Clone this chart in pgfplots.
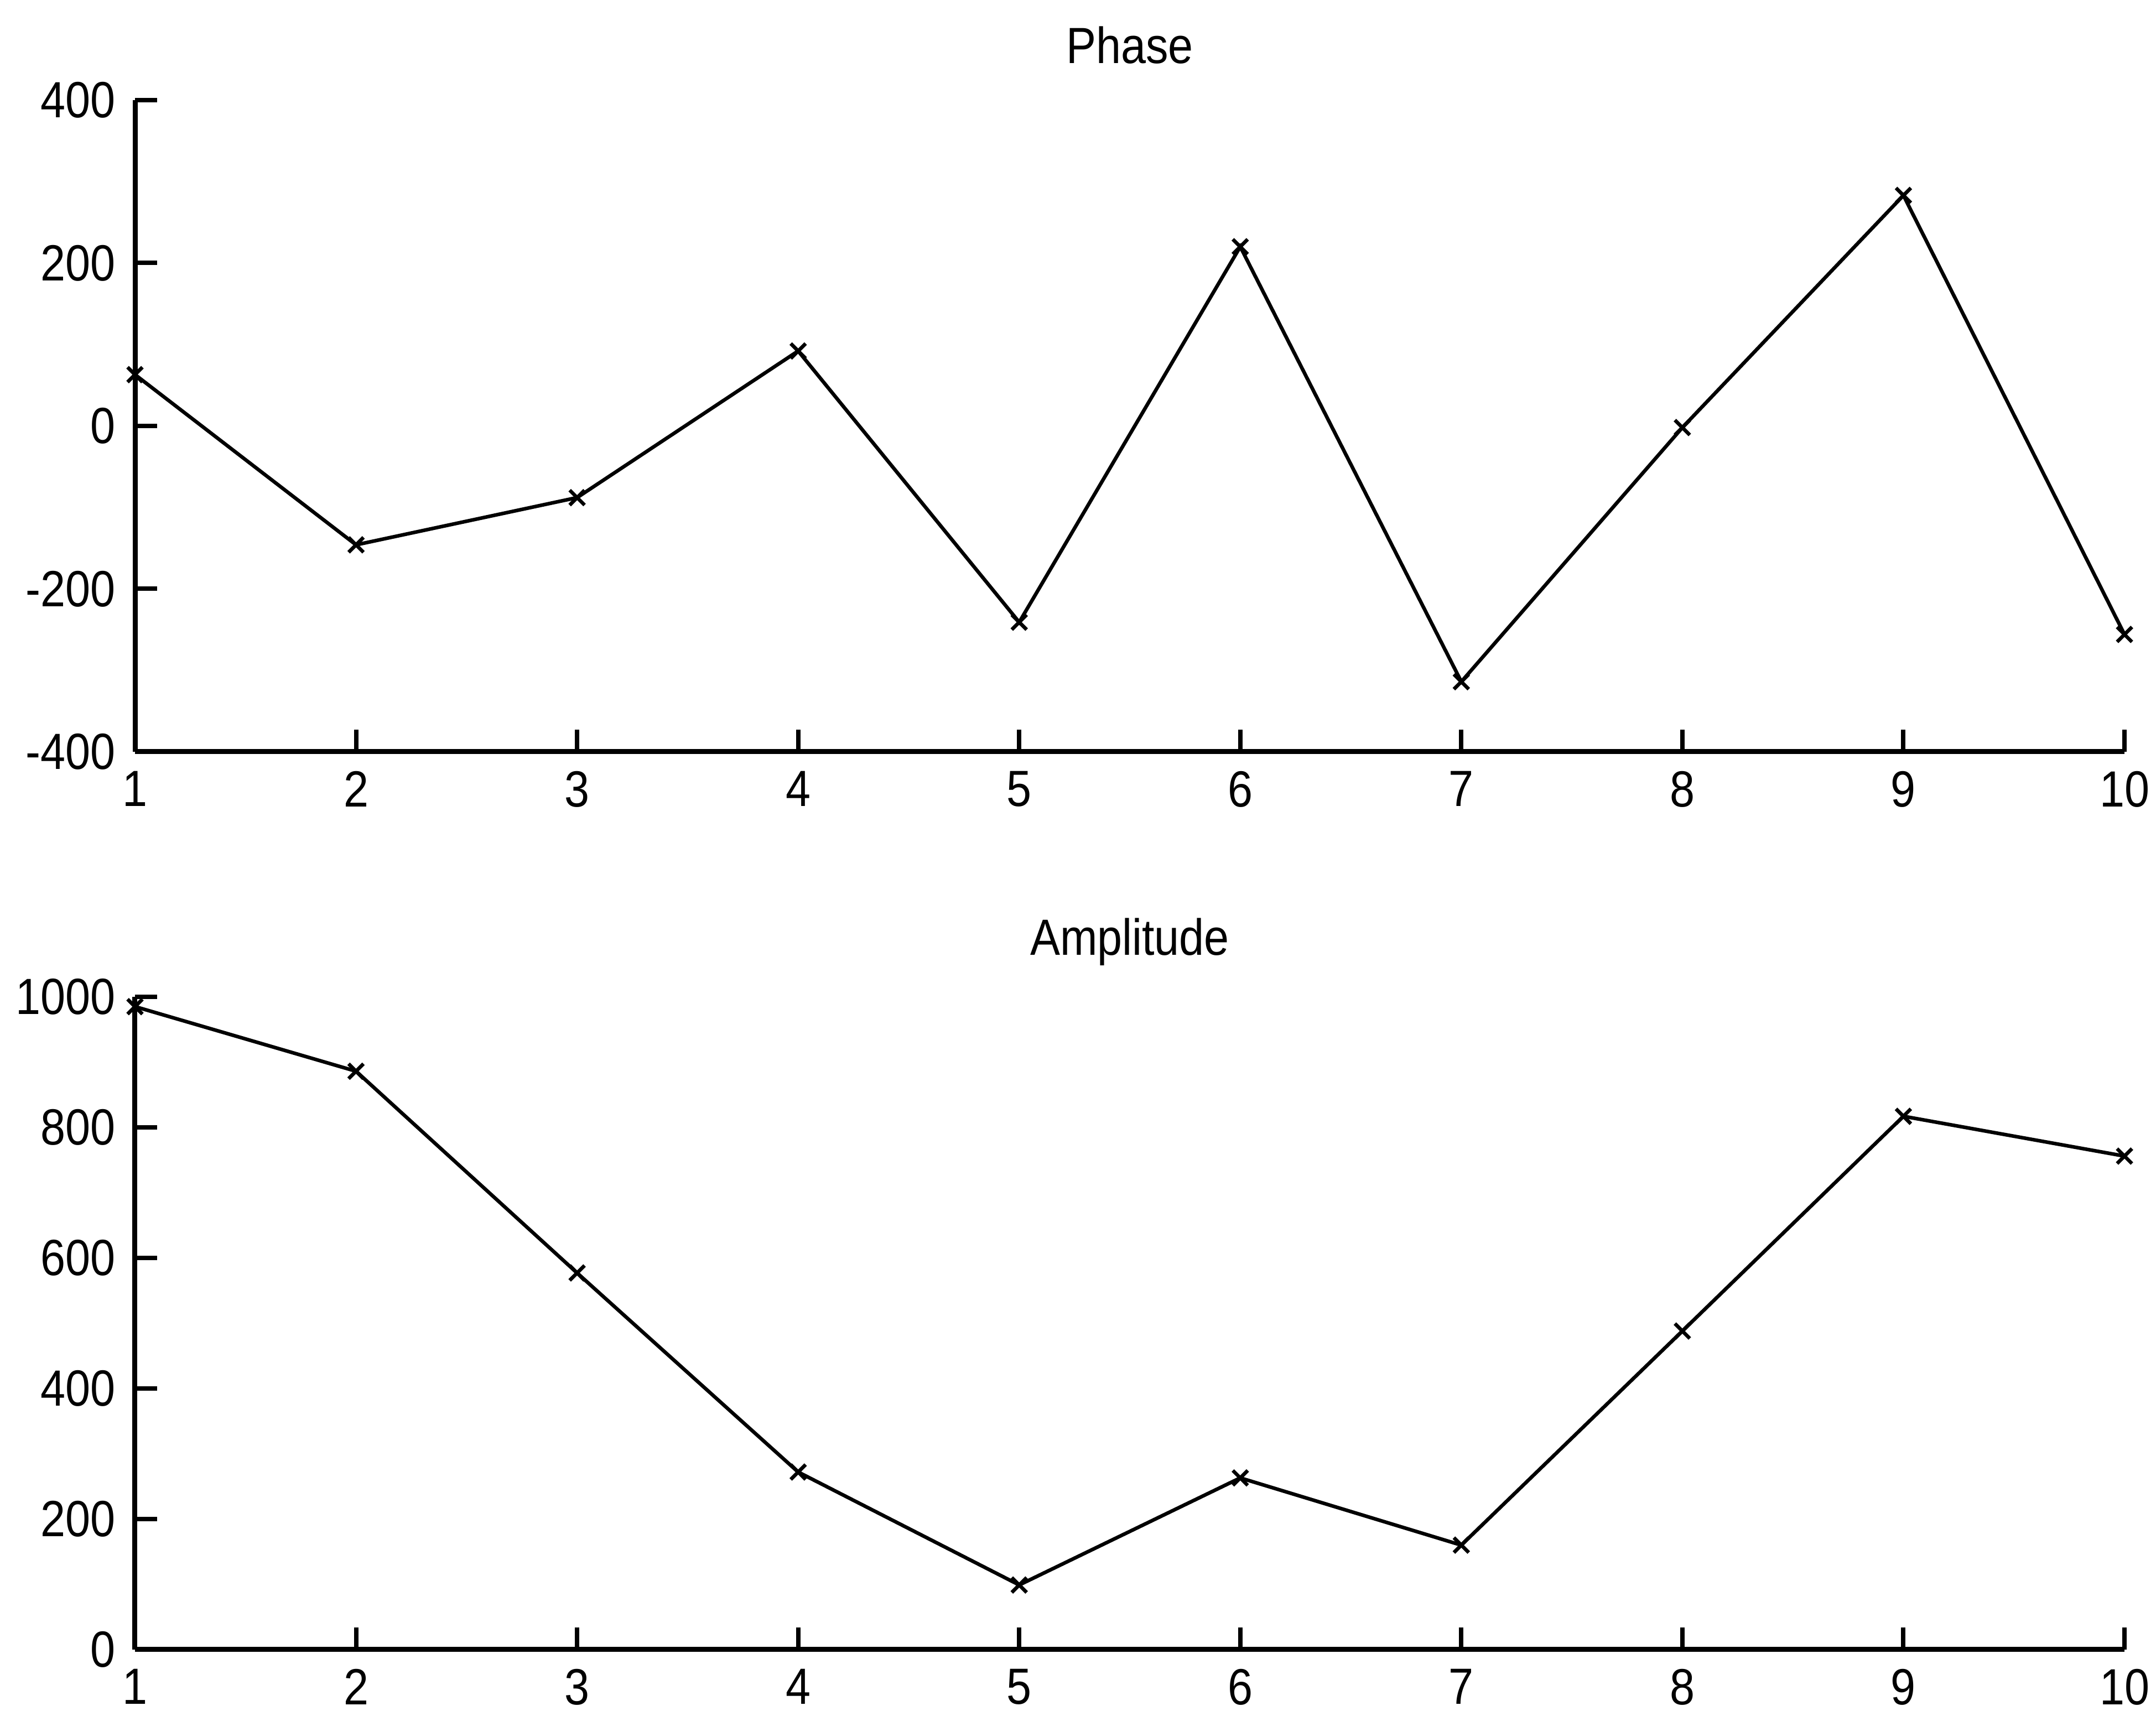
\documentclass[border=0pt]{standalone}
\usepackage{pgfplots}
\pgfplotsset{compat=1.18}
\usepackage{fontspec}
\setmainfont{Liberation Sans}[FakeStretch=0.88]
\begin{document}
\begin{tikzpicture}[x=1pt,y=1pt]
\useasboundingbox (0,0) rectangle (389.7,309.3);
\pgfplotsset{
  myax/.style={
    scale only axis, width=359.6pt,
    axis lines=left, axis line style={-, line width=0.9pt},
    tick align=inside, major tick length=4pt,
    tick style={line width=0.8pt, black},
    xmin=1, xmax=10, xtick={1,...,10},
    font=\fontsize{9.2}{11}\selectfont,
    ticklabel style={font=\fontsize{9.2}{11}\selectfont},
    /pgf/number format/assume math mode=true,
    /pgf/number format/1000 sep={},
    title style={at={(0.5,1)}, anchor=center, yshift=3.9pt, font=\fontsize{9.2}{11}\selectfont},
    clip=false,
  }
}
\begin{axis}[myax, at={(24.4pt,173.4pt)}, anchor=south west, height=117.8pt,
  ymin=-400, ymax=400, ytick={-400,-200,0,200,400}, title={Phase}]
\addplot[black, line width=0.65pt, mark=x, mark size=1.9pt] coordinates {
(1,63) (2,-146) (3,-88) (4,92) (5,-241) (6,220) (7,-314) (8,-2) (9,283) (10,-256)};
\end{axis}
\begin{axis}[myax, at={(24.4pt,11.1pt)}, anchor=south west, height=118pt,
  ymin=0, ymax=1000, ytick={0,200,400,600,800,1000}, title={Amplitude}]
\addplot[black, line width=0.65pt, mark=x, mark size=1.9pt] coordinates {
(1,985) (2,886) (3,577) (4,272) (5,99) (6,263) (7,160) (8,488) (9,817) (10,756)};
\end{axis}
\end{tikzpicture}
\end{document}
